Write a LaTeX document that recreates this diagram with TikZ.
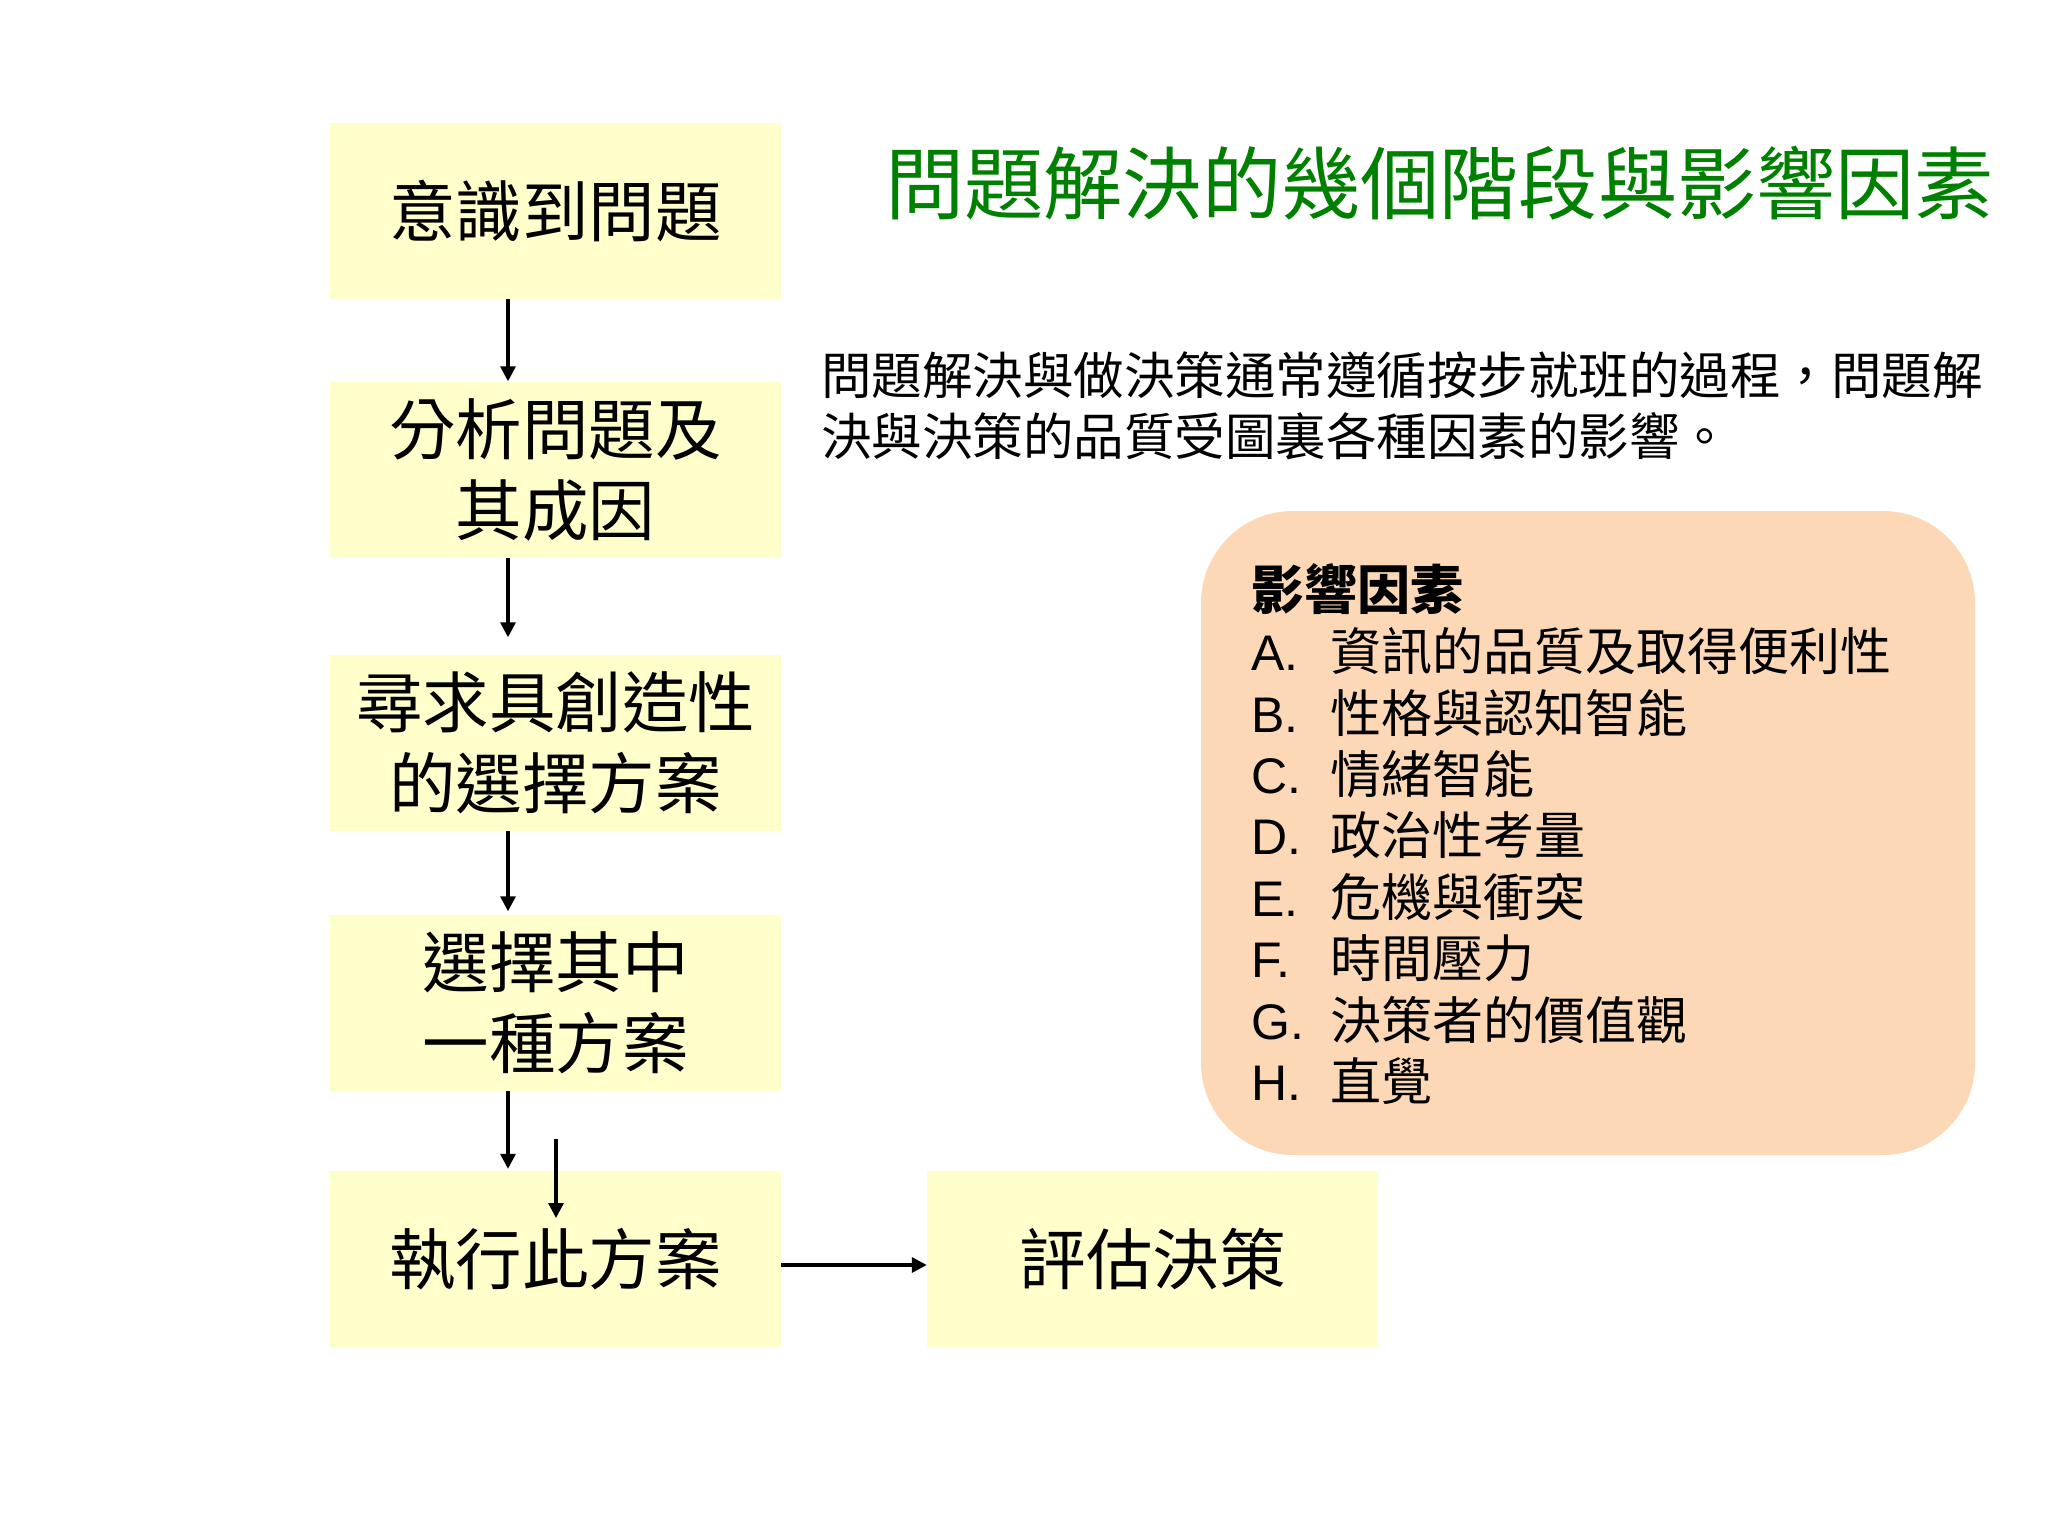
\documentclass[tikz,border=0pt]{standalone}
\usepackage{fontspec}
\usepackage{graphicx}
\setmainfont{Liberation Sans}
\newfontfamily\cjk{Noto Sans CJK TC}
\usetikzlibrary{arrows.meta}
\definecolor{boxfill}{HTML}{FFFFCC}
\definecolor{peach}{HTML}{FCD8B6}
\definecolor{titlegreen}{HTML}{008000}
\tikzset{
  stepbox/.style={rectangle, fill=boxfill, minimum width=451pt, minimum height=176pt,
    inner sep=0pt, align=center, font=\cjk\fontsize{66.5}{81}\selectfont},
  arr/.style={line width=3.2pt, -{Triangle[length=15pt,width=15pt]}},
  factorbox/.style={rectangle, fill=peach, rounded corners=92pt, minimum width=774pt,
    minimum height=644pt, inner sep=0pt},
  lab/.style={inner sep=0pt, anchor=west}
}
\newcommand{\itm}[1]{\makebox[79pt][l]{#1}}
\begin{document}
\begin{tikzpicture}[x=1pt,y=-1pt]
\useasboundingbox (0,0) rectangle (2048,1536);
\fill[white] (0,0) rectangle (2048,1536);

% title
\node[lab, text=titlegreen] (title) at (885,183)
  {\resizebox{1109pt}{!}{\cjk\fontsize{85}{100}\selectfont 問題解決的幾個階段與影響因素}};

% flow boxes
\node[stepbox] (b1) at (555.5,211) {意識到問題};
\node[stepbox] (b2) at (555.5,469.5) {分析問題及\\其成因};
\node[stepbox] (b3) at (555.5,742.5) {尋求具創造性\\的選擇方案};
\node[stepbox] (b4) at (555.5,1002.5) {選擇其中\\一種方案};
\node[stepbox] (b5) at (555.5,1259) {執行此方案};
\node[stepbox] (b6) at (1152.5,1259) {評估決策};

% arrows
\draw[arr] ([xshift=-47.5pt]b1.south) -- ([xshift=-47.5pt]b2.north);
\draw[arr, shorten >=17pt] ([xshift=-47.5pt]b2.south) -- ([xshift=-47.5pt]b3.north);
\draw[arr, shorten >=3pt] ([xshift=-47.5pt]b3.south) -- ([xshift=-47.5pt]b4.north);
\draw[arr, shorten >=2pt] ([xshift=-47.5pt]b4.south) -- ([xshift=-47.5pt]b5.north);
\coordinate (e1) at (556,1139);
\coordinate (e2) at (556,1218);
\draw[arr] (e1) -- (e2);
\draw[arr] ([yshift=-6pt]b5.east) -- ([yshift=-6pt]b6.west);

% paragraph
\node[lab, align=left, font=\cjk\fontsize{50.5}{61}\selectfont] (para) at (821,405.5)
  {問題解決與做決策通常遵循按步就班的過程，問題解\\決與決策的品質受圖裏各種因素的影響。};

% factor box
\node[factorbox] (fb) at (1588,833) {};
\node[lab, align=left, font=\fontsize{50}{61.4}\selectfont] (fl) at (1251,834)
  {{\cjk\bfseries\fontsize{53}{61.4}\selectfont 影響因素}\\
   \itm{A.}{\cjk\fontsize{51}{61.4}\selectfont 資訊的品質及取得便利性}\\
   \itm{B.}{\cjk\fontsize{51}{61.4}\selectfont 性格與認知智能}\\
   \itm{C.}{\cjk\fontsize{51}{61.4}\selectfont 情緒智能}\\
   \itm{D.}{\cjk\fontsize{51}{61.4}\selectfont 政治性考量}\\
   \itm{E.}{\cjk\fontsize{51}{61.4}\selectfont 危機與衝突}\\
   \itm{F.}{\cjk\fontsize{51}{61.4}\selectfont 時間壓力}\\
   \itm{G.}{\cjk\fontsize{51}{61.4}\selectfont 決策者的價值觀}\\
   \itm{H.}{\cjk\fontsize{51}{61.4}\selectfont 直覺}};
\end{tikzpicture}
\end{document}
